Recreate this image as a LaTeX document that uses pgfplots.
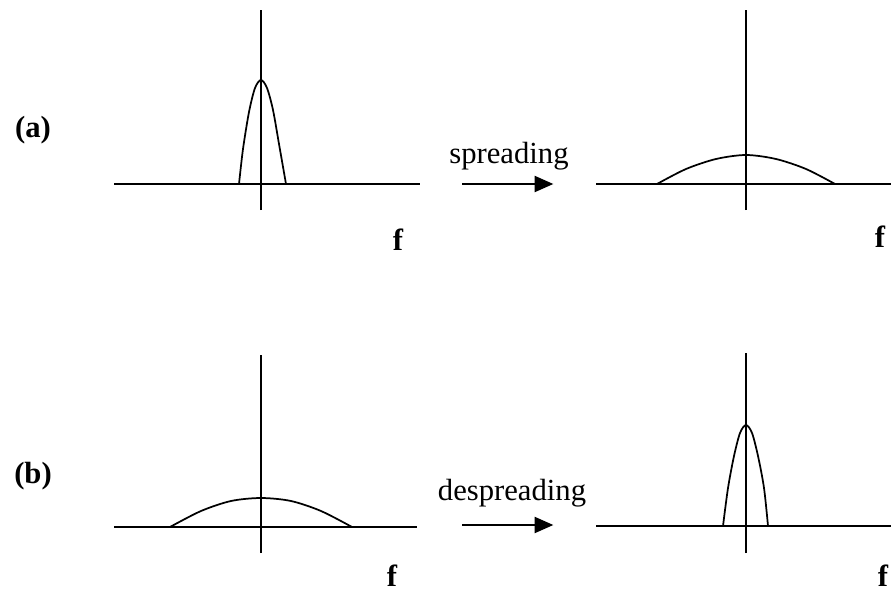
\documentclass[border=0pt]{standalone}
\usepackage{pgfplots}
\pgfplotsset{compat=1.18}
\usetikzlibrary{arrows.meta}
\usepackage{fontspec}
\setmainfont{Liberation Serif}
\pgfplotsset{
  panel/.style={
    scale only axis,
    anchor=south west,
    axis lines=center,
    axis line style={-, line width=1.1pt, black},
    ticks=none,
    clip=false,
  },
  curve/.style={black, line width=1.3pt, smooth, no markers},
}
\begin{document}
\begin{tikzpicture}
\useasboundingbox (0pt,0pt) rectangle (668.25pt,445.5pt);
% (a) left: narrow spectrum
\begin{axis}[panel, at={(85.5pt,288pt)}, width=229.5pt, height=150pt,
  xmin=-147, xmax=159, ymin=-26, ymax=174]
\addplot[curve] coordinates {(-22,0) (-18,35) (-12,72) (-6,96) (0,104) (6,96) (12,74) (18,40) (25,0)};
\end{axis}
% (a) right: spread spectrum
\begin{axis}[panel, at={(447pt,288pt)}, width=221.25pt, height=150pt,
  xmin=-150, xmax=145, ymin=-26, ymax=174]
\addplot[curve] coordinates {(-89,0) (-60,15) (-30,25) (0,29) (30,25) (60,15) (89,0)};
\end{axis}
% (b) left: spread spectrum
\begin{axis}[panel, at={(85.5pt,30.75pt)}, width=227.25pt, height=148.5pt,
  xmin=-147, xmax=156, ymin=-26, ymax=172]
\addplot[curve] coordinates {(-91,0) (-60,16) (-30,26) (0,29) (30,26) (60,16) (91,0)};
\end{axis}
% (b) right: despread spectrum
\begin{axis}[panel, at={(447pt,30.75pt)}, width=221.25pt, height=150pt,
  xmin=-150, xmax=145, ymin=-27, ymax=173]
\addplot[curve] coordinates {(-23,0) (-18,38) (-12,70) (-6,93) (0,101) (6,93) (12,70) (18,38) (22,0)};
\end{axis}
% labels
\fontsize{23}{26}\selectfont
\node[font=\bfseries] at (24.75pt,348pt) {(a)};
\node[font=\bfseries] at (24.75pt,88.5pt) {(b)};
\node[anchor=base] at (381.75pt,323.25pt) {spreading};
\node[anchor=base] at (384pt,70.5pt) {despreading};
\node[font=\bfseries] at (298.5pt,265.5pt) {f};
\node[font=\bfseries] at (660pt,267.75pt) {f};
\node[font=\bfseries] at (294pt,13.5pt) {f};
\node[font=\bfseries] at (662.25pt,13.5pt) {f};
% arrows
\draw[line width=1.5pt, -{Triangle[length=14pt,width=12pt]}] (346.5pt,307.5pt) -- (415pt,307.5pt);
\draw[line width=1.5pt, -{Triangle[length=14pt,width=12pt]}] (346.5pt,51.75pt) -- (415pt,51.75pt);
\end{tikzpicture}
\end{document}
